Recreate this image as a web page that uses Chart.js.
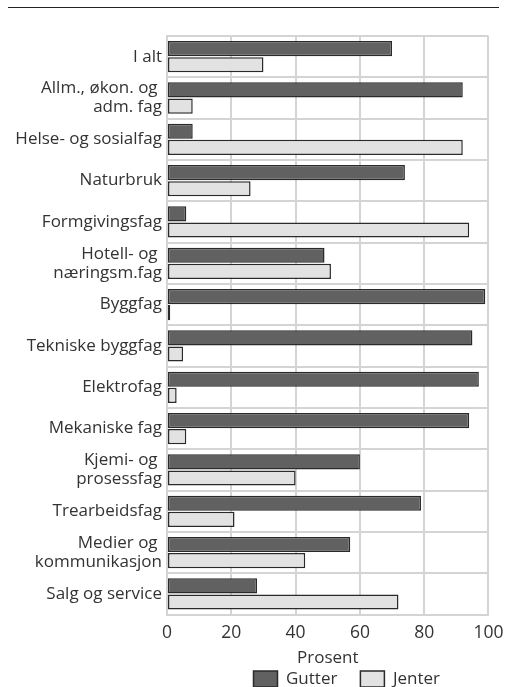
<!DOCTYPE html>
<html>
<head>
<meta charset="utf-8">
<script src="https://cdn.jsdelivr.net/npm/chart.js@4/dist/chart.umd.min.js"></script>
<style>
  body { margin: 0; background: #fff; }
  #wrap { position: relative; width: 506px; height: 687px; }
  #rule { position: absolute; left: 8px; top: 7px; width: 491px; height: 0; border-top: 1.5px solid #222; }
</style>
</head>
<body>
<div id="wrap">
  <div id="rule"></div>
  <canvas id="chart" width="506" height="687"></canvas>
</div>
<script>
var categories = [
    "I alt",
    ["Allm., økon. og ", "adm. fag"],
    "Helse- og sosialfag",
    "Naturbruk",
    "Formgivingsfag",
    ["Hotell- og ", "næringsm.fag"],
    "Byggfag",
    "Tekniske byggfag",
    "Elektrofag",
    "Mekaniske fag",
    ["Kjemi- og ", "prosessfag"],
    "Trearbeidsfag",
    ["Medier og ", "kommunikasjon"],
    "Salg og service"
];
var gutter = [70, 92, 8, 74, 6, 49, 99, 95, 97, 94, 60, 79, 57, 28];
var jenter = [30, 8, 92, 26, 94, 51, 1, 5, 3, 6, 40, 21, 43, 72];
var xTicks = [0, 20, 40, 60, 80, 100];

var fontFamily = "'Open Sans', sans-serif";
var textColor = "#333";
var gridColor = "#d4d4d4";

// legend sits a bit right of centre and tighter to the axis title than chart.js puts it
// (only the top moves up, so the clip box of the legend still holds the items)
var legendNudge = {
    id: 'legendNudge',
    afterLayout: function (chart) {
        var lg = chart.legend;
        lg.left += 19; lg.right += 19;
        lg.top -= 20.5;
        lg.height = lg.bottom - lg.top;
    }
};

var ctx = document.getElementById("chart");
var chart = new Chart(ctx, {
    type: 'bar',
    data: {
        labels: categories,
        datasets: [
            {
                label: 'Gutter',
                data: gutter,
                backgroundColor: '#616161',
                borderColor: '#2a2a2a',
                borderWidth: 1.5,
                borderSkipped: false,
                categoryPercentage: 0.78,
                barPercentage: 0.94
            },
            {
                label: 'Jenter',
                data: jenter,
                backgroundColor: '#e2e2e2',
                borderColor: '#2a2a2a',
                borderWidth: 1.5,
                borderSkipped: false,
                categoryPercentage: 0.78,
                barPercentage: 0.94
            }
        ]
    },
    plugins: [legendNudge],
    options: {
        indexAxis: 'y',
        responsive: false,
        animation: false,
        layout: {
            padding: { top: 36, right: 17, bottom: 0, left: 0 }
        },
        plugins: {
            legend: {
                position: 'bottom',
                align: 'center',
                fullSize: false,
                maxHeight: 19,
                labels: {
                    boxWidth: 24,
                    boxHeight: 16,
                    padding: 23,
                    color: textColor,
                    font: { family: fontFamily, size: 17 }
                }
            },
            tooltip: { enabled: false }
        },
        scales: {
            x: {
                min: 0,
                max: 100,
                afterBuildTicks: function (scale) {
                    scale.ticks = xTicks.map(v => ({ value: v }));
                },
                grid: { color: gridColor, lineWidth: 2, drawTicks: true, tickLength: 5, tickColor: 'rgba(0,0,0,0)' },
                border: { color: gridColor, width: 2 },
                ticks: {
                    color: textColor,
                    padding: 2.5,
                    font: { family: fontFamily, size: 17.5 }
                },
                title: {
                    display: true,
                    text: 'Prosent',
                    color: textColor,
                    padding: { top: 2, bottom: 0 },
                    font: { family: fontFamily, size: 17 }
                }
            },
            y: {
                grid: { color: gridColor, lineWidth: 2, drawTicks: false, offset: true },
                border: { color: gridColor, width: 2 },
                ticks: {
                    color: textColor,
                    padding: 5,
                    autoSkip: false,
                    font: { family: fontFamily, size: 17, lineHeight: 1.1 }
                },
                afterFit: function (scale) {
                    scale.width = 167;
                }
            }
        }
    }
});
</script>
</body>
</html>
